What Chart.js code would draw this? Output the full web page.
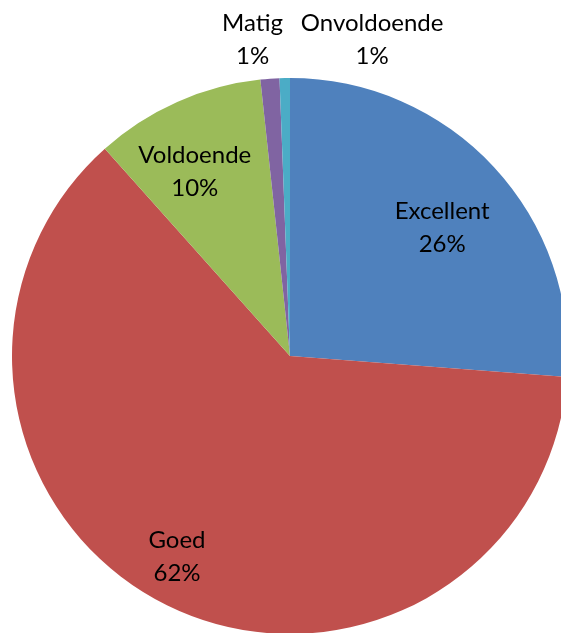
<!DOCTYPE html>
<html>
<head>
<meta charset="utf-8">
<script src="https://cdn.jsdelivr.net/npm/chart.js@4"></script>
<style>
  html, body { margin: 0; padding: 0; background: #fff; overflow: hidden; width: 561px; height: 633px; }
  #wrap { position: absolute; left: 0; top: 0; width: 600px; height: 700px; }
</style>
</head>
<body>
<div id="wrap"><canvas id="pieChart"></canvas></div>
<script>
// data (share of answers, %)
const categories = ["Excellent", "Goed", "Voldoende", "Matig", "Onvoldoende"];
const values = [26.2, 62.2, 9.9, 1.1, 0.6];
const colors = ["#4F81BD", "#C0504D", "#9BBB59", "#8064A2", "#4BACC6"];

// label placement: distance as part of radius, turn in degrees from the slice middle
const labelDist = [0.716, 0.826, 0.748, 1.148, 1.178];
const labelTurn = [2.7, 3.2, -3.3, -2.6, 15.6];

const labelPlugin = {
    id: "sliceLabels",
    afterDraw(chart) {
        const ctx = chart.ctx;
        const total = values.reduce((a, b) => a + b, 0);
        ctx.save();
        ctx.font = "24px Lato";
        ctx.fillStyle = "#000";
        ctx.textAlign = "center";
        ctx.textBaseline = "middle";
        chart.getDatasetMeta(0).data.forEach((arc, i) => {
            const mid = (arc.startAngle + arc.endAngle) / 2 + labelTurn[i] * Math.PI / 180;
            const r = arc.outerRadius * labelDist[i];
            const x = arc.x + Math.cos(mid) * r;
            const y = arc.y + Math.sin(mid) * r;
            const pct = Math.round(values[i] / total * 100) + "%";
            ctx.fillText(categories[i], x, y - 16);
            ctx.fillText(pct, x, y + 17);
        });
        ctx.restore();
    }
};

const ctx = document.getElementById("pieChart").getContext("2d");
new Chart(ctx, {
    type: "pie",
    data: {
        labels: categories,
        datasets: [{
            data: values,
            backgroundColor: colors,
            borderWidth: 0,
            hoverOffset: 0
        }]
    },
    options: {
        responsive: true,
        maintainAspectRatio: false,
        animation: false,
        layout: { padding: { left: 12, top: 78, right: 32, bottom: 66 } },
        plugins: {
            legend: { display: false },
            tooltip: { enabled: false }
        }
    },
    plugins: [labelPlugin]
});
</script>
</body>
</html>
